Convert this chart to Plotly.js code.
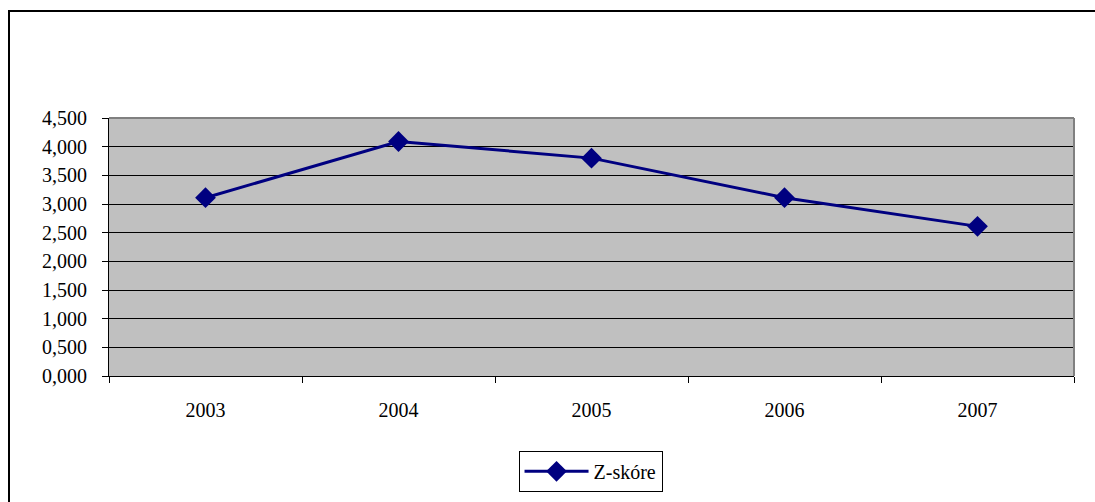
<!DOCTYPE html>
<html>
<head>
<meta charset="utf-8">
<script src="https://cdn.plot.ly/plotly-3.0.1.min.js"></script>
<style>
  html, body { margin: 0; padding: 0; background: #fff; overflow: hidden; }
  #wrap { position: relative; width: 1095px; height: 502px; }
  #chart { position: absolute; left: 0; top: 0; width: 1095px; height: 502px; }
  #frame { position: absolute; left: 8px; top: 10px; width: 1200px; height: 600px;
           border: 2px solid #000; pointer-events: none; }
</style>
</head>
<body>
<div id="wrap">
  <div id="chart"></div>
  <div id="frame"></div>
</div>
<script>
// Z-score by year
const years = ['2003', '2004', '2005', '2006', '2007'];
const zScore = [3.11, 4.09, 3.80, 3.11, 2.61];
const seriesName = 'Z-skóre';
const yTicks = [0, 0.5, 1, 1.5, 2, 2.5, 3, 3.5, 4, 4.5];

const FAMILY = '"Liberation Serif", "Times New Roman", serif';
function serif(size) {
  return { family: FAMILY, size: size, color: '#000000' };
}

const trace = {
  x: years,
  y: zScore,
  name: seriesName,
  type: 'scatter',
  mode: 'lines+markers',
  line: { color: '#000080', width: 3 },
  marker: { symbol: 'diamond', size: 16, color: '#000080' },
  showlegend: true
};

const layout = {
  width: 1095,
  height: 502,
  margin: { l: 109, r: 21, t: 118, b: 125 },
  paper_bgcolor: 'rgba(0,0,0,0)',
  plot_bgcolor: '#C0C0C0',
  separators: ', ',
  font: serif(20),
  showlegend: true,
  xaxis: {
    type: 'category',
    range: [-0.5, 4.5],
    tickson: 'boundaries',
    ticks: 'outside',
    ticklen: 6,
    tickcolor: '#000',
    ticklabelstandoff: 16,
    showline: true,
    linecolor: '#000',
    linewidth: 1,
    showgrid: false,
    zeroline: false,
    tickfont: serif(20)
  },
  yaxis: {
    range: [0, 4.5],
    tickvals: yTicks,
    tickformat: '.3f',
    ticks: 'outside',
    ticklen: 6,
    tickcolor: '#000',
    ticklabelstandoff: 11,
    showline: true,
    linecolor: '#000',
    linewidth: 1,
    showgrid: true,
    gridcolor: '#000',
    gridwidth: 1,
    zeroline: false,
    tickfont: serif(20)
  },
  shapes: [
    { type: 'line', xref: 'paper', yref: 'paper', x0: 0, x1: 1, y0: 1, y1: 1,
      line: { color: '#808080', width: 2 } },
    { type: 'line', xref: 'paper', yref: 'paper', x0: 1, x1: 1, y0: 0, y1: 1,
      line: { color: '#808080', width: 2 } }
  ],
  legend: {
    x: 0.499,
    xanchor: 'center',
    y: -0.285,
    yanchor: 'top',
    bgcolor: '#fff',
    bordercolor: '#000',
    borderwidth: 1,
    font: serif(20),
    itemwidth: 64
  }
};

Plotly.newPlot('chart', [trace], layout, { displayModeBar: false, staticPlot: true });
</script>
</body>
</html>
